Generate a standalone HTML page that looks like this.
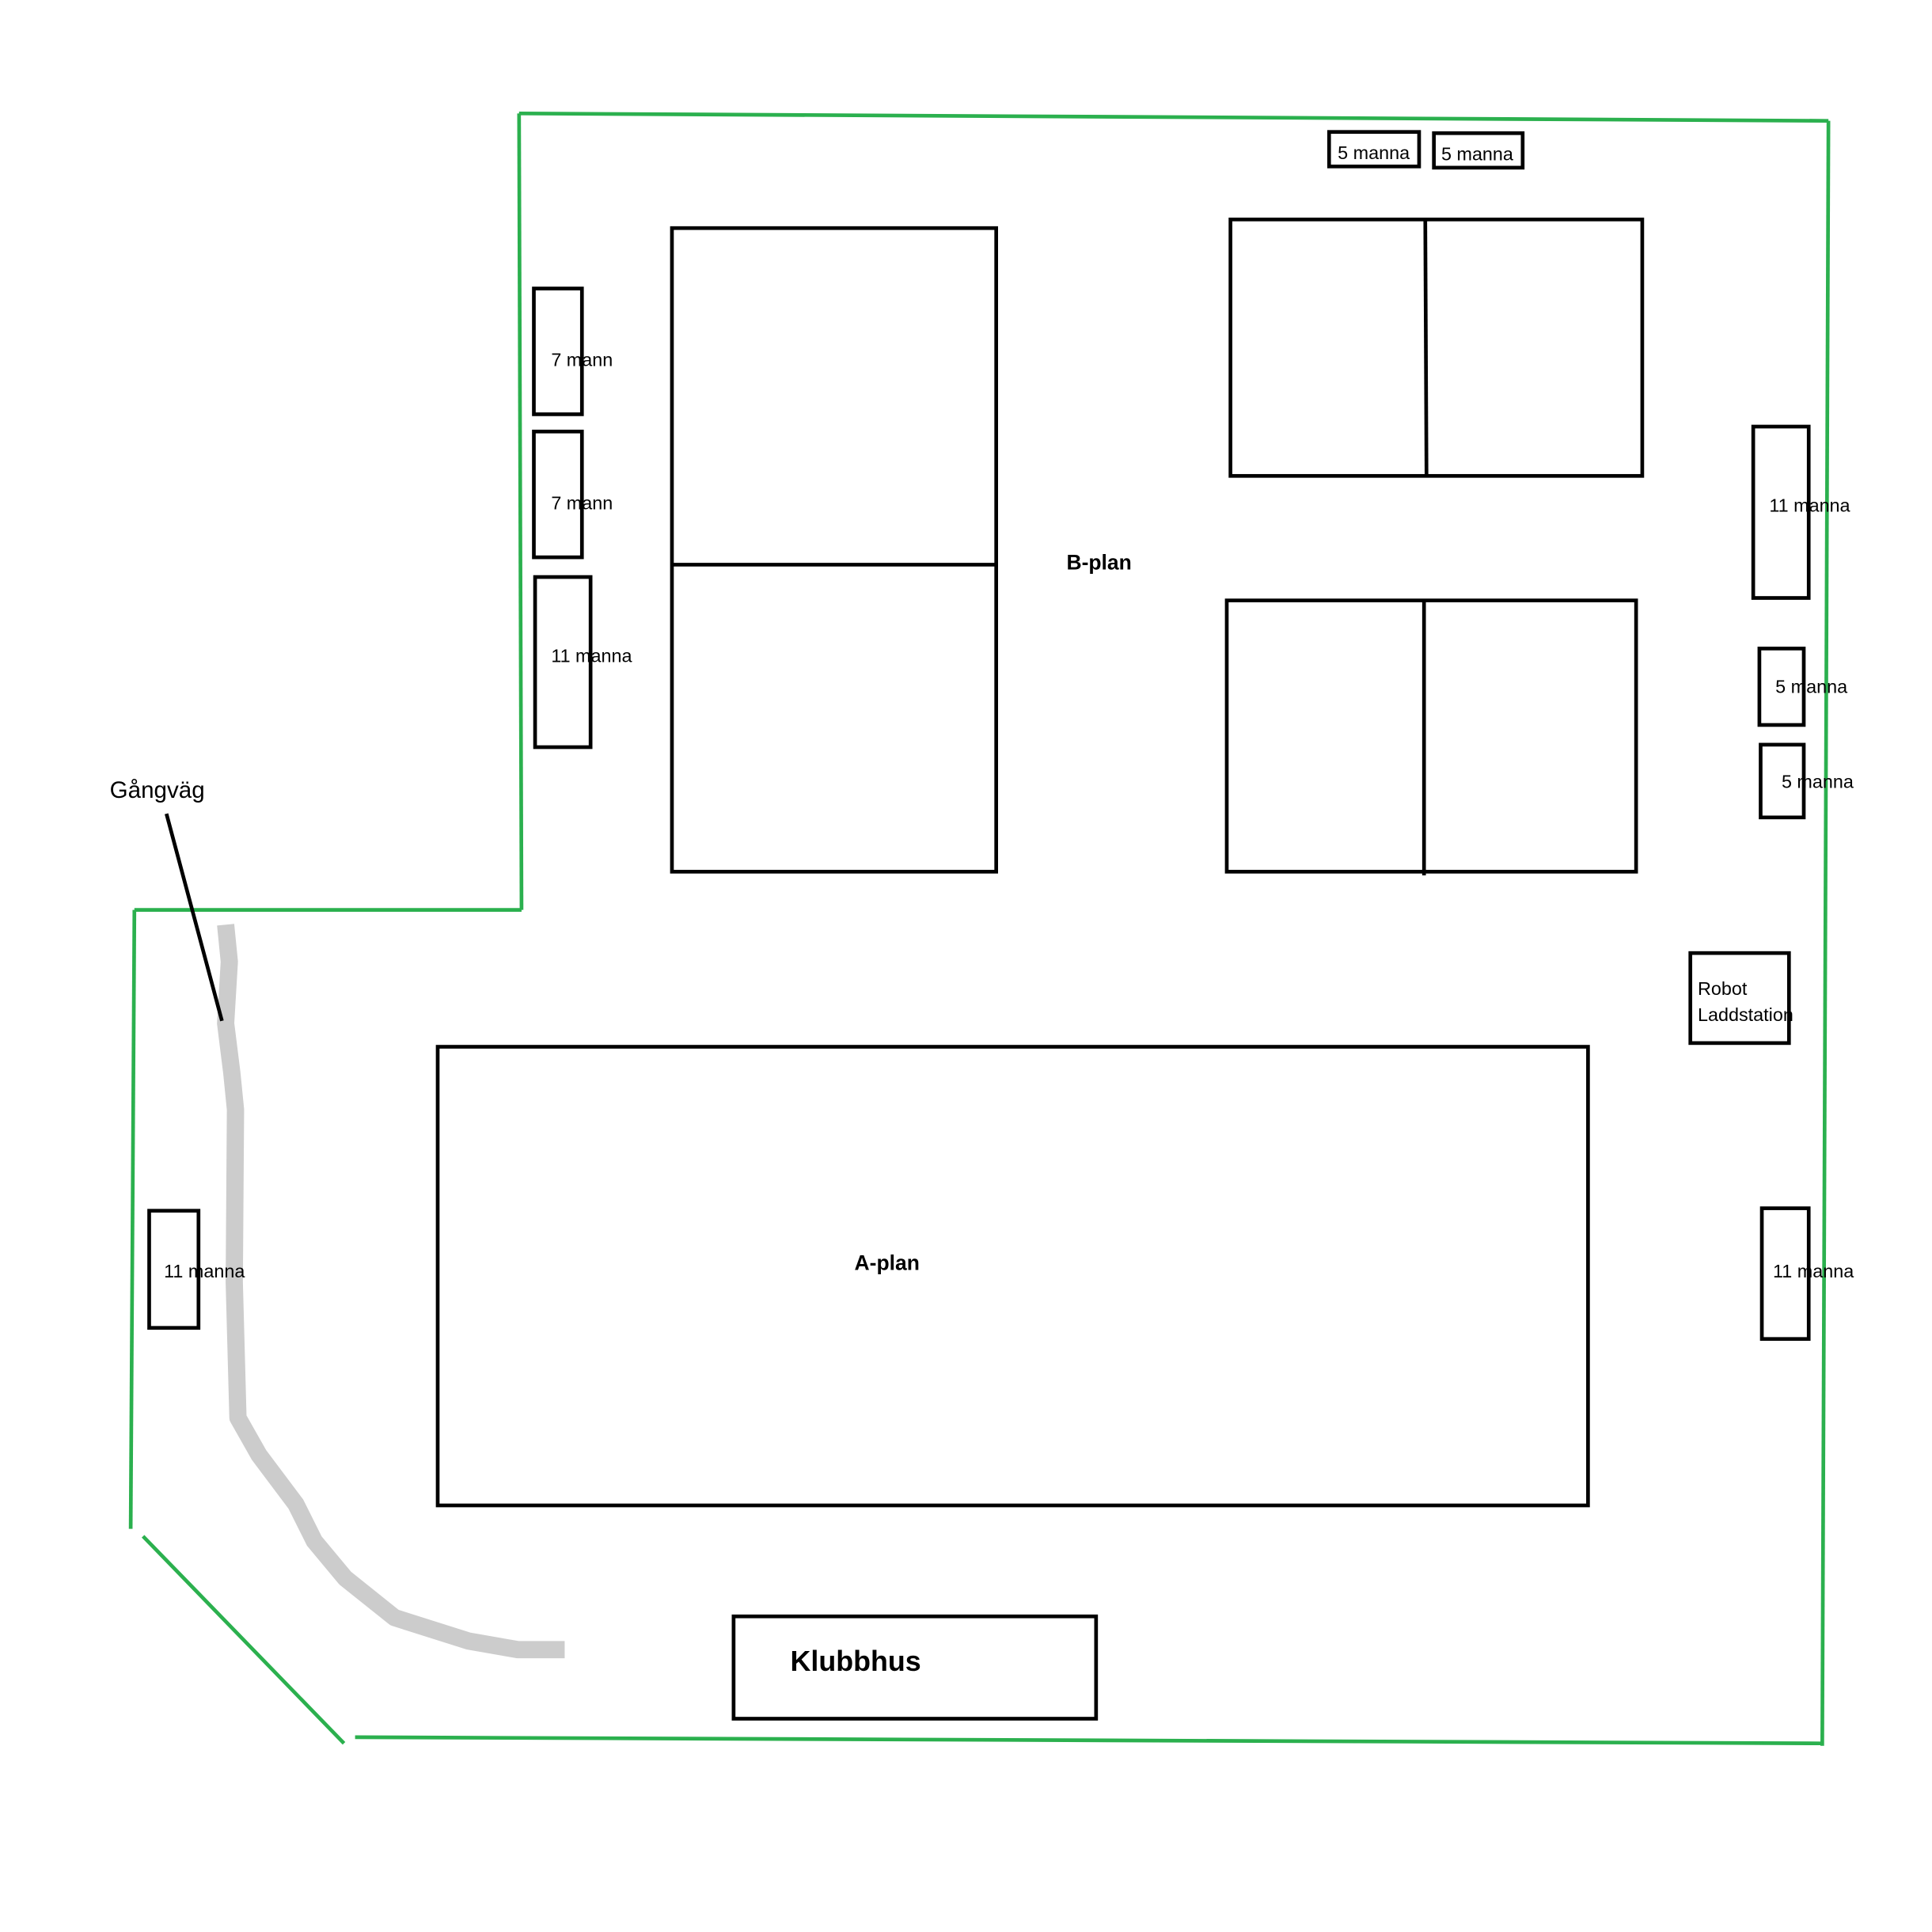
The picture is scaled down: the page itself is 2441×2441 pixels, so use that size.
<!DOCTYPE html>
<html><head><meta charset="utf-8"><style>html,body{margin:0;padding:0;background:#fff}svg{display:block}</style></head>
<body>
<svg width="2441" height="2441" viewBox="0 0 1567 1567" xmlns="http://www.w3.org/2000/svg" font-family="Liberation Sans, sans-serif">
<rect width="1567" height="1567" fill="#fff"/>
<g fill="none" stroke="#2bb04e" stroke-width="3">
<line x1="421" y1="92" x2="1483" y2="98"/>
<line x1="421" y1="92" x2="423" y2="738"/>
<line x1="423" y1="738" x2="109" y2="738"/>
<line x1="109" y1="738" x2="106" y2="1240"/>
<line x1="116" y1="1246" x2="279" y2="1414"/>
<line x1="288" y1="1409" x2="1477" y2="1414"/>
<line x1="1483" y1="98" x2="1478" y2="1416"/>
</g>
<path d="M183,750 L186,780 L183,830 L188,870 L191,900 L190,1040 L193,1150 L210,1180 L240,1220 L255,1250 L280,1280 L320,1312 L380,1331 L420,1338 L458,1338" fill="none" stroke="#cccccc" stroke-width="14" stroke-linejoin="round"/>
<line x1="135" y1="660" x2="180" y2="828" stroke="#000" stroke-width="3"/>
<g fill="none" stroke="#000" stroke-width="3">
<rect x="1078" y="107" width="73" height="28"/>
<rect x="1163" y="108" width="72" height="28"/>
<rect x="433" y="234" width="39" height="102"/>
<rect x="433" y="350" width="39" height="102"/>
<rect x="434" y="468" width="45" height="138"/>
<rect x="545" y="185" width="263" height="522"/>
<line x1="545" y1="458" x2="808" y2="458"/>
<rect x="998" y="178" width="334" height="208"/>
<line x1="1156" y1="178" x2="1157" y2="386"/>
<rect x="995" y="487" width="332" height="220"/>
<line x1="1155" y1="487" x2="1155" y2="710"/>
<rect x="1422" y="346" width="45" height="139"/>
<rect x="1427" y="526" width="36" height="62"/>
<rect x="1428" y="604" width="35" height="59"/>
<rect x="1371" y="773" width="80" height="73"/>
<rect x="355" y="849" width="933" height="372"/>
<rect x="121" y="982" width="40" height="95"/>
<rect x="1429" y="980" width="38" height="106"/>
<rect x="595" y="1311" width="294" height="83"/>
</g>
<g font-size="15" fill="#000">
<text x="1085" y="129">5 manna</text>
<text x="1169" y="130">5 manna</text>
<text x="447" y="297">7 mann</text>
<text x="447" y="413">7 mann</text>
<text x="447" y="537">11 manna</text>
<text x="1435" y="415">11 manna</text>
<text x="1440" y="562">5 manna</text>
<text x="1445" y="639">5 manna</text>
<text x="1377" y="807">Robot</text>
<text x="1377" y="828">Laddstation</text>
<text x="133" y="1036">11 manna</text>
<text x="1438" y="1036">11 manna</text>
<text x="89" y="647" font-size="19">Gångväg</text>
<text x="865" y="462" font-size="17" font-weight="bold">B-plan</text>
<text x="693" y="1030" font-size="17" font-weight="bold">A-plan</text>
<text x="641" y="1355" font-size="23" font-weight="bold">Klubbhus</text>
</g>
</svg>
</body></html>
